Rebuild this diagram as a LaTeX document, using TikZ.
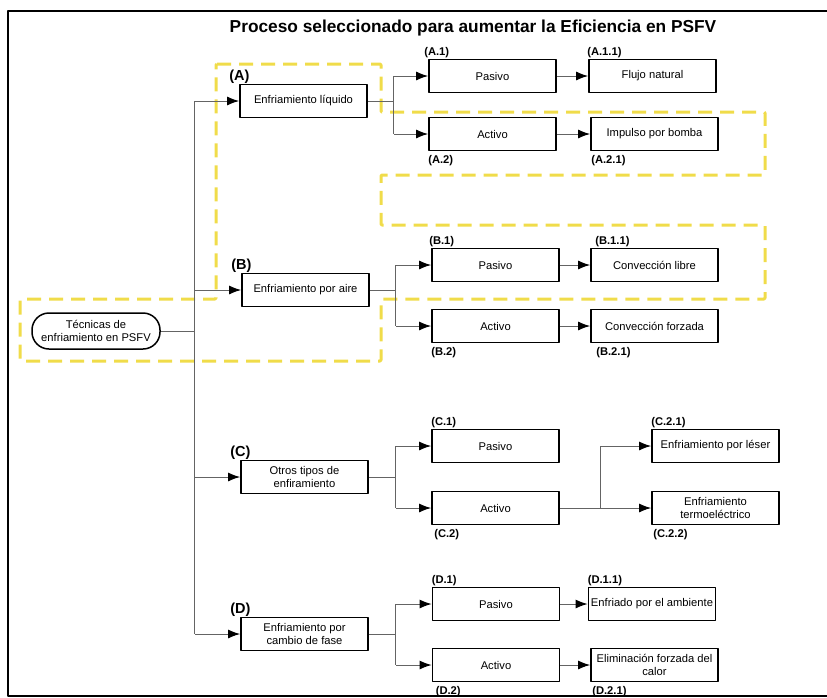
\documentclass[tikz,border=0pt]{standalone}
\usepackage{fontspec}
\setmainfont{Liberation Sans}
\usetikzlibrary{arrows.meta}
\definecolor{amarillo}{RGB}{240,220,74}
\definecolor{gris}{RGB}{100,100,100}
\begin{document}
\begin{tikzpicture}[x=1pt, y=-1pt, line join=round, font=\fontsize{11.2}{12.4}\selectfont,
	caja/.style={draw, line width=1.8pt, minimum width=127pt, minimum height=33pt, inner sep=1pt, align=center},
	raiz/.style={caja, line width=1.5pt, rounded corners=17pt, minimum width=128pt, minimum height=36pt},
	conn/.style={draw=gris, line width=1pt},
	flecha/.style={conn, -{Latex[length=12pt,width=9pt,color=black]}},
	etq/.style={font=\fontsize{11.2}{12}\selectfont\bfseries, inner sep=0pt, anchor=base west},
	etqg/.style={font=\fontsize{14.5}{16}\selectfont\bfseries, inner sep=0pt, anchor=base west}]
	\useasboundingbox (0,0) rectangle (827,697);
	\draw[line width=2pt] (827,11)--(8,11)--(8,696)--(827,696);
	\node[font=\fontsize{17.3}{20}\selectfont\bfseries] (titulo) at (473,28) {Proceso seleccionado para aumentar la Eficiencia en PSFV};
	\draw[amarillo, line width=3pt, dash pattern=on 14pt off 8pt, rounded corners=1pt] (216,64)--(381,64)--(381,112)--(765,112)--(765,175)--(381,175)--(381,225)--(765,225)--(765,299)--(381,299)--(381,361)--(20,361)--(20,299)--(216,299)--cycle;
	% nivel 0 y 1
	\node[raiz] (tec) at (96,331) {Técnicas de\\enfriamiento en PSFV};
	\node[caja] (A) at (303.5,101) {Enfriamiento líquido};
	\node[caja] (B) at (305.5,290) {Enfriamiento por aire};
	\node[caja] (C) at (304.5,477) {Otros tipos de\\enfiramiento};
	\node[caja] (D) at (304.5,634) {Enfriamiento por\\cambio de fase};
	% nivel 2
	\node[caja] (A1) at (492.5,76) {Pasivo}; \node[caja] (A2) at (492.5,134) {Activo};
	\node[caja] (B1) at (495.5,265) {Pasivo}; \node[caja] (B2) at (495.5,326) {Activo};
	\node[caja] (C1) at (495.5,446) {Pasivo}; \node[caja] (C2) at (495.5,508) {Activo};
	\node[caja] (D1) at (496,604) {Pasivo}; \node[caja] (D2) at (496,665) {Activo};
	% nivel 3
	\node[caja] (A11) at (652.5,76) {Flujo natural}; \node[caja] (A21) at (654.5,134) {Impulso por bomba};
	\node[caja] (B11) at (654.5,265) {Convección libre}; \node[caja] (B21) at (654.5,326) {Convección forzada};
	\node[caja] (C21) at (715.5,446) {Enfriamiento por léser}; \node[caja] (C22) at (715.5,508) {Enfriamiento\\termoeléctrico};
	\node[caja,inner sep=0pt] (D11) at (652,604) {Enfriado por el ambiente}; \node[caja] (D21) at (654.5,665) {Eliminación forzada del\\calor};
	% etiquetas
	\foreach \n/\t in {A/(A),B/(B),C/(C),D/(D)} \node[etqg] at ([xshift=-10pt,yshift=3.5pt]\n.north west) {\t};
	\foreach \n/\t/\dx in {A1/(A.1)/-4,A11/(A.1.1)/-1,B1/(B.1)/-2,B11/(B.1.1)/5,C1/(C.1)/0,C21/(C.2.1)/0,D1/(D.1)/0,D11/(D.1.1)/0}
		\node[etq] at ([xshift=\dx pt,yshift=3pt]\n.north west) {\t};
	\foreach \n/\t/\dx in {A2/(A.2)/0,A21/(A.2.1)/1,B2/(B.2)/0,B21/(B.2.1)/6,C2/(C.2)/3,C22/(C.2.2)/2,D2/(D.2)/4,D21/(D.2.1)/2}
		\node[etq] at ([xshift=\dx pt,yshift=-12pt]\n.south west) {\t};
	% conectores
	\draw[conn] (tec.east) -- ++(34,0) coordinate (t);
	\draw[conn] (t |- A.west) -- (t |- D.west);
	\foreach \n in {A,B,C,D} \draw[flecha] (t |- \n.west) -- (\n.west);
	\foreach \n/\dx in {A/26,B/26,C/27,D/27} {
		\draw[conn] (\n.east) -- ++(\dx,0) coordinate (j\n);
		\draw[conn] (j\n |- \n1.west) -- (j\n |- \n2.west);
		\draw[flecha] (j\n |- \n1.west) -- (\n1.west);
		\draw[flecha] (j\n |- \n2.west) -- (\n2.west);
	}
	\foreach \a/\b in {A1/A11,A2/A21,B1/B11,B2/B21,D1/D11,D2/D21} \draw[flecha] (\a) -- (\b);
	\draw[conn] (C2.east) -- ++(41,0) coordinate (jC2);
	\draw[conn] (jC2) -- (jC2 |- C21.west);
	\draw[flecha] (jC2 |- C21.west) -- (C21.west);
	\draw[flecha] (jC2) -- (C22.west);
\end{tikzpicture}
\end{document}
